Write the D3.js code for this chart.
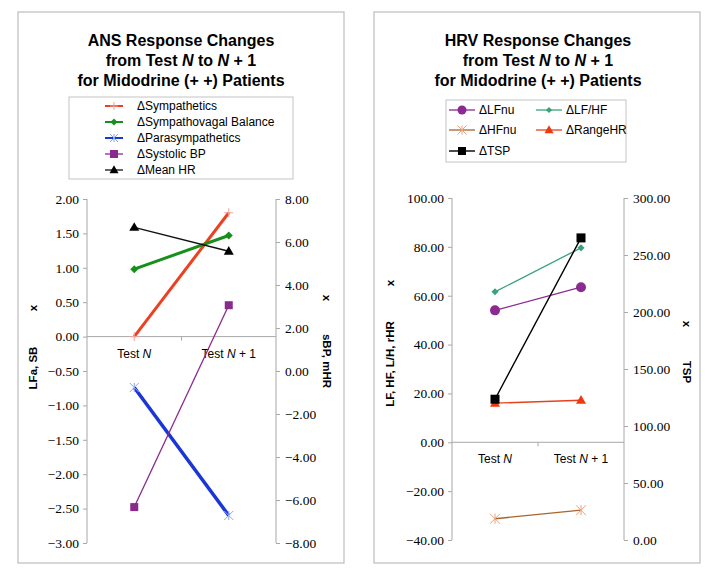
<!DOCTYPE html>
<html><head><meta charset="utf-8">
<script src="https://cdn.jsdelivr.net/npm/d3@7"></script>
<style>body{margin:0;background:#fff}svg{display:block}
.tick text{font-family:'Liberation Serif','Times New Roman',serif !important;}
</style>
</head><body>
<svg id="c" width="718" height="576"></svg>
<script>
// ---------- DATA ----------
const categories = ["Test N", "Test N + 1"];

// ANS panel (left axis: LFa, SB ; right axis: sBP, mHR)
const ansSympathetics = [0.00, 1.80];
const ansSympathovagal = [0.98, 1.47];
const ansParasympathetics = [-0.74, -2.60];
const ansSystolicBP = [-6.33, 3.06];   // right axis
const ansMeanHR = [6.68, 5.57];        // right axis
const ansLeftTicks = [2.00, 1.50, 1.00, 0.50, 0.00, -0.50, -1.00, -1.50, -2.00, -2.50, -3.00];
const ansRightTicks = [8.00, 6.00, 4.00, 2.00, 0.00, -2.00, -4.00, -6.00, -8.00];

// HRV panel (left axis: LF, HF, L/H, rHR ; right axis: TSP)
const hrvLFnu = [54.0, 63.5];
const hrvLFHF = [61.6, 79.6];
const hrvHFnu = [-31.3, -27.8];
const hrvRangeHR = [16.0, 17.2];
const hrvTSP = [123.5, 265.0];         // right axis
const hrvLeftTicks = [100, 80, 60, 40, 20, 0, -20, -40];
const hrvRightTicks = [300, 250, 200, 150, 100, 50, 0];

// ---------- DRAW ----------
const svg = d3.select("#c");
const sans = "'Liberation Sans', Arial, sans-serif";
const serif = "'Liberation Serif', 'Times New Roman', serif";

function markerPath(kind, size) {
  const s = size / 2;
  if (kind === "asterisk") {
    return `M${-s},${-s}L${s},${s}M${-s},${s}L${s},${-s}M0,${-s}L0,${s}`;
  }
  if (kind === "plus") return `M${-s},0L${s},0M0,${-s}L0,${s}`;
  if (kind === "circle") return d3.symbol(d3.symbolCircle, Math.PI * s * s)();
  if (kind === "square") return d3.symbol(d3.symbolSquare, size * size)();
  if (kind === "diamond") return d3.symbol(d3.symbolDiamond2, size * size / 2)();
  if (kind === "triangle") {
    const h = size * 0.87;
    return `M0,${-h * 0.6}L${s},${h * 0.4}L${-s},${h * 0.4}Z`;
  }
}

function drawMarker(g, kind, x, y, spec) {
  const stroked = kind === "asterisk" || kind === "plus";
  g.append("path").attr("d", markerPath(kind, spec.msize))
    .attr("transform", `translate(${x},${y})`)
    .attr("fill", stroked ? "none" : spec.mcolor)
    .attr("stroke", stroked ? spec.mcolor : "none")
    .attr("stroke-width", stroked ? 1 : 0);
}

function drawPanel(p) {
  const g = svg.append("g");
  g.append("rect").attr("x", p.box[0]).attr("y", p.box[1]).attr("width", p.box[2]).attr("height", p.box[3])
    .attr("fill", "#fff").attr("stroke", "#bdbdbd").attr("stroke-width", 1.2);
  // title
  const t = g.append("text").attr("text-anchor", "middle").attr("font-family", sans)
    .attr("font-weight", "bold").attr("font-size", 16).attr("fill", "#000");
  t.append("tspan").attr("x", p.cx).attr("y", 46).text(p.title1);
  const l2 = t.append("tspan").attr("x", p.cx).attr("y", 66);
  l2.append("tspan").text("from Test ");
  l2.append("tspan").attr("font-style", "italic").text("N");
  l2.append("tspan").text(" to ");
  l2.append("tspan").attr("font-style", "italic").text("N");
  l2.append("tspan").text(" + 1");
  t.append("tspan").attr("x", p.cx).attr("y", 86).text("for Midodrine (+ +) Patients");

  // legend
  const lg = p.legend;
  g.append("rect").attr("x", lg.box[0]).attr("y", lg.box[1]).attr("width", lg.box[2]).attr("height", lg.box[3])
    .attr("fill", "#fff").attr("stroke", "#c4c4c4").attr("stroke-width", 1);
  p.series.forEach((s, i) => {
    const [lx, ly] = lg.pos[i];
    g.append("line").attr("x1", lx).attr("x2", lx + lg.lineLen).attr("y1", ly).attr("y2", ly)
      .attr("stroke", s.color).attr("stroke-width", Math.min(s.width, 2));
    drawMarker(g, s.marker, lx + lg.lineLen / 2, ly, {msize: s.legendMsize || s.msize, mcolor: s.mcolor});
    g.append("text").attr("x", lx + lg.lineLen + lg.gap).attr("y", ly + 4.3)
      .attr("font-family", sans).attr("font-size", 12).attr("fill", "#000").text("\u0394" + s.name);
  });

  // scales
  const x = d3.scalePoint().domain(categories).range([p.x0, p.x1]).padding(0.5);
  const yL = d3.scaleLinear().domain(p.leftDomain).range([p.yBot, p.yTop]);
  const yR = d3.scaleLinear().domain(p.rightDomain).range([p.yBot, p.yTop]);

  const axisColor = "#a8a8a8";
  const leftAxis = d3.axisLeft(yL).tickValues(p.leftTicks).tickSize(4).tickFormat(d3.format(".2f"));
  const rightAxis = d3.axisRight(yR).tickValues(p.rightTicks).tickSize(4).tickFormat(d3.format(".2f"));
  const la = g.append("g").attr("transform", `translate(${p.x0},0)`).call(leftAxis);
  const ra = g.append("g").attr("transform", `translate(${p.x1},0)`).call(rightAxis);
  [la, ra].forEach(a => {
    a.attr("font-family", serif).attr("font-size", 13.5);
    a.select(".domain").attr("stroke", axisColor);
    a.selectAll(".tick line").attr("stroke", axisColor);
    a.selectAll(".tick text").attr("font-family", serif).attr("font-size", 13.5).attr("fill", "#000");
  });
  la.select(".domain").attr("d", `M0,${p.yTop}V${p.yBot}`);
  ra.select(".domain").attr("d", `M0,${p.yTop}V${p.yBot}`);
  la.selectAll(".tick text").attr("x", -8);
  ra.selectAll(".tick text").attr("x", 9);

  // category axis on zero line
  const y0 = yL(0);
  g.append("line").attr("x1", p.x0).attr("x2", p.x1).attr("y1", y0).attr("y2", y0).attr("stroke", axisColor);
  g.append("line").attr("x1", (p.x0 + p.x1) / 2).attr("x2", (p.x0 + p.x1) / 2).attr("y1", y0).attr("y2", y0 + 4).attr("stroke", axisColor);
  categories.forEach(c => {
    const tt = g.append("text").attr("x", x(c)).attr("y", y0 + 21).attr("text-anchor", "middle")
      .attr("font-family", sans).attr("font-size", 12).attr("fill", "#000");
    tt.append("tspan").text("Test ");
    tt.append("tspan").attr("font-style", "italic").text("N");
    if (c.endsWith("+ 1")) tt.append("tspan").text(" + 1");
  });

  // axis titles
  const at = (xx, yy, rot, txt) => g.append("text").attr("transform", `translate(${xx},${yy}) rotate(${rot})`)
    .attr("text-anchor", "middle").attr("font-family", sans).attr("font-weight", "bold").attr("font-size", 11.5)
    .attr("fill", "#000").text(txt);
  p.axisTitles.forEach(a => at(a[0], a[1], a[2], a[3]));

  // series
  const line = d3.line();
  p.series.forEach(s => {
    const ys = s.axis === "right" ? yR : yL;
    const pts = categories.map((c, i) => [x(c), ys(s.values[i])]);
    g.append("path").attr("d", line(pts)).attr("fill", "none").attr("stroke", s.color)
      .attr("stroke-width", s.width);
  });
  p.series.forEach(s => {
    const ys = s.axis === "right" ? yR : yL;
    categories.forEach((c, i) => drawMarker(g, s.marker, x(c), ys(s.values[i]), s));
  });
}

drawPanel({
  box: [18, 12, 326, 551], cx: 181, title1: "ANS Response Changes",
  x0: 87, x1: 276, yTop: 199, yBot: 543,
  leftDomain: [-3, 2], rightDomain: [-8, 8],
  leftTicks: ansLeftTicks, rightTicks: ansRightTicks,
  legend: {box: [69, 97, 224, 82], lineLen: 18, gap: 14,
    pos: [[105, 106], [105, 122], [105, 138], [105, 154], [105, 170]]},
  axisTitles: [[37, 368, -90, "LFa, SB"], [37, 308, -90, "x"], [323, 298, 90, "x"], [323, 361, 90, "sBP, mHR"]],
  series: [
    {name: "Sympathetics", values: ansSympathetics, axis: "left", color: "#ec4020", width: 3, marker: "plus", msize: 9, mcolor: "#f3a09a", legendMsize: 8},
    {name: "Sympathovagal Balance", values: ansSympathovagal, axis: "left", color: "#16901a", width: 3, marker: "diamond", msize: 9, mcolor: "#16901a", legendMsize: 8},
    {name: "Parasympathetics", values: ansParasympathetics, axis: "left", color: "#1b36d8", width: 3.5, marker: "asterisk", msize: 9, mcolor: "#8aa8f0", legendMsize: 8},
    {name: "Systolic BP", values: ansSystolicBP, axis: "right", color: "#8a2a8e", width: 1.3, marker: "square", msize: 8, mcolor: "#8a2a8e", legendMsize: 8},
    {name: "Mean HR", values: ansMeanHR, axis: "right", color: "#111", width: 1.3, marker: "triangle", msize: 10, mcolor: "#000", legendMsize: 9}
  ]
});

drawPanel({
  box: [374, 12, 326, 551], cx: 538, title1: "HRV Response Changes",
  x0: 452, x1: 624, yTop: 198, yBot: 540,
  leftDomain: [-40, 100], rightDomain: [0, 300],
  leftTicks: hrvLeftTicks, rightTicks: hrvRightTicks,
  legend: {box: [446, 100, 180, 62], lineLen: 26, gap: 4,
    pos: [[449, 110], [536, 110], [449, 130], [536, 130], [449, 151]]},
  axisTitles: [[394, 364, -90, "LF, HF, L/H, rHR"], [394, 283, -90, "x"], [683, 324, 90, "x"], [683, 372, 90, "TSP"]],
  series: [
    {name: "LFnu", values: hrvLFnu, axis: "left", color: "#8b2a90", width: 1.3, marker: "circle", msize: 10, mcolor: "#8b2a90", legendMsize: 9},
    {name: "LF/HF", values: hrvLFHF, axis: "left", color: "#3aa27a", width: 1.3, marker: "diamond", msize: 8, mcolor: "#3aa27a", legendMsize: 7},
    {name: "HFnu", values: hrvHFnu, axis: "left", color: "#a8642c", width: 1.3, marker: "asterisk", msize: 10, mcolor: "#eaa27a", legendMsize: 9},
    {name: "RangeHR", values: hrvRangeHR, axis: "left", color: "#e8401c", width: 1.3, marker: "triangle", msize: 10, mcolor: "#f0380e", legendMsize: 9},
    {name: "TSP", values: hrvTSP, axis: "right", color: "#000", width: 1.4, marker: "square", msize: 9, mcolor: "#000", legendMsize: 8}
  ]
});
</script>
</body></html>
